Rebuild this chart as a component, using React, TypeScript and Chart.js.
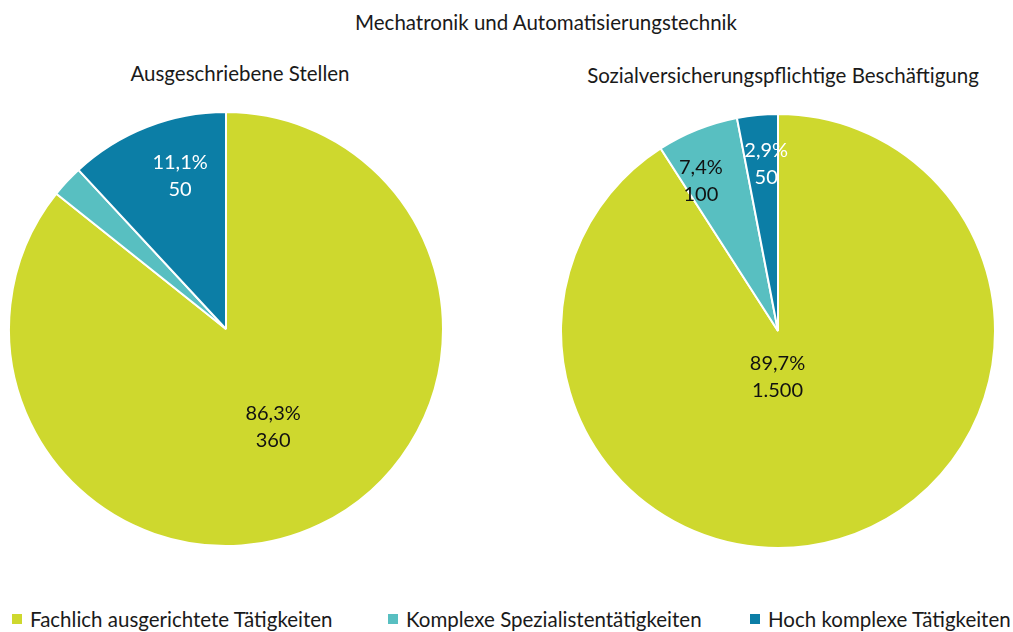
import React, { useEffect, useRef } from "react";
import { Chart, registerables } from "chart.js";

Chart.register(...registerables);

const mainTitle = "Mechatronik und Automatisierungstechnik";
const categories = [
  "Fachlich ausgerichtete Tätigkeiten",
  "Komplexe Spezialistentätigkeiten",
  "Hoch komplexe Tätigkeiten",
];
const colors = ["#CED82E", "#58BFC1", "#0C7EA6"];
const labelColors = ["#111111", "#111111", "#FFFFFF"];

const leftTitle = "Ausgeschriebene Stellen";
const leftValues = [360, 10, 50];
const leftPercent = [86.3, null, 11.1];
const leftCounts = ["360", "", "50"];

const rightTitle = "Sozialversicherungspflichtige Beschäftigung";
const rightValues = [1500, 100, 50];
const rightPercent = [89.7, 7.4, 2.9];
const rightCounts = ["1.500", "100", "50"];

const FONT = "Lato, 'Noto Sans', sans-serif";

type LabelPlace = { f: number; angleShift: number } | null;

function fmtPct(v: number) {
  return v.toFixed(1).replace(".", ",") + "%";
}

function PieChart(props: {
  values: number[];
  percents: (number | null)[];
  counts: string[];
  places: LabelPlace[];
  style: React.CSSProperties;
}) {
  const ref = useRef<HTMLCanvasElement | null>(null);
  useEffect(() => {
    if (!ref.current) return;
    const { values, percents, counts, places } = props;
    const labelPlugin = {
      id: "sliceLabels",
      afterDatasetsDraw(chart: any) {
        const ctx = chart.ctx;
        const meta = chart.getDatasetMeta(0);
        meta.data.forEach((arc: any, i: number) => {
          const p = places[i];
          const pct = percents[i];
          if (!p || pct === null) return;
          const { x, y, startAngle, endAngle, outerRadius } = arc.getProps(
            ["x", "y", "startAngle", "endAngle", "outerRadius"],
            true
          );
          const mid = (startAngle + endAngle) / 2 + (p.angleShift * Math.PI) / 180;
          const d = outerRadius * p.f;
          const cx = x + Math.cos(mid) * d;
          const cy = y + Math.sin(mid) * d;
          ctx.save();
          ctx.fillStyle = labelColors[i];
          ctx.font = `20px ${FONT}`;
          ctx.textAlign = "center";
          ctx.textBaseline = "middle";
          ctx.fillText(fmtPct(pct), cx, cy - 13.5);
          ctx.fillText(counts[i], cx, cy + 13.5);
          ctx.restore();
        });
      },
    };
    const chart = new Chart(ref.current, {
      type: "pie",
      data: {
        labels: categories,
        datasets: [
          {
            data: values,
            backgroundColor: colors,
            borderColor: "#FFFFFF",
            borderWidth: 2,
            hoverOffset: 0,
          },
        ],
      },
      options: {
        animation: false,
        responsive: false,
        maintainAspectRatio: false,
        layout: { padding: 0 },
        plugins: { legend: { display: false }, tooltip: { enabled: false }, title: { display: false } },
      },
      plugins: [labelPlugin],
    });
    return () => chart.destroy();
  }, []);
  const w = props.style.width as number;
  const h = props.style.height as number;
  return <canvas ref={ref} width={w} height={h} style={{ position: "absolute", ...props.style }} />;
}

const textStyle: React.CSSProperties = {
  position: "absolute",
  fontFamily: FONT,
  fontSize: 20.5,
  color: "#1a1a1a",
  whiteSpace: "nowrap",
  transform: "translateX(-50%)",
  lineHeight: "24px",
};

export default function App() {
  const legendLefts = [12, 388, 750];
  return (
    <div
      style={{
        position: "fixed",
        left: 0,
        top: 0,
        width: 1013,
        height: 632,
        background: "#FFFFFF",
        overflow: "hidden",
      }}
    >
      <div style={{ ...textStyle, left: 546, top: 10 }}>{mainTitle}</div>
      <div style={{ ...textStyle, left: 240, top: 61 }}>{leftTitle}</div>
      <div style={{ ...textStyle, left: 783, top: 63 }}>{rightTitle}</div>
      <PieChart
        values={leftValues}
        percents={leftPercent}
        counts={leftCounts}
        places={[{ f: 0.5, angleShift: 0 }, null, { f: 0.735, angleShift: 4.7 }]}
        style={{ left: 8, top: 111, width: 436, height: 436 }}
      />
      <PieChart
        values={rightValues}
        percents={rightPercent}
        counts={rightCounts}
        places={[{ f: 0.214, angleShift: 17 }, { f: 0.777, angleShift: -5.4 }, { f: 0.771, angleShift: 1.4 }]}
        style={{ left: 560, top: 113, width: 436, height: 436 }}
      />
      {categories.map((c, i) => (
        <div
          key={c}
          style={{
            position: "absolute",
            left: legendLefts[i],
            top: 607,
            display: "flex",
            alignItems: "center",
            fontFamily: FONT,
            fontSize: 20.5,
            color: "#1a1a1a",
            whiteSpace: "nowrap",
            lineHeight: "24px",
          }}
        >
          <span style={{ display: "inline-block", width: 10, height: 10, background: colors[i], marginRight: 8 }} />
          {c}
        </div>
      ))}
    </div>
  );
}
